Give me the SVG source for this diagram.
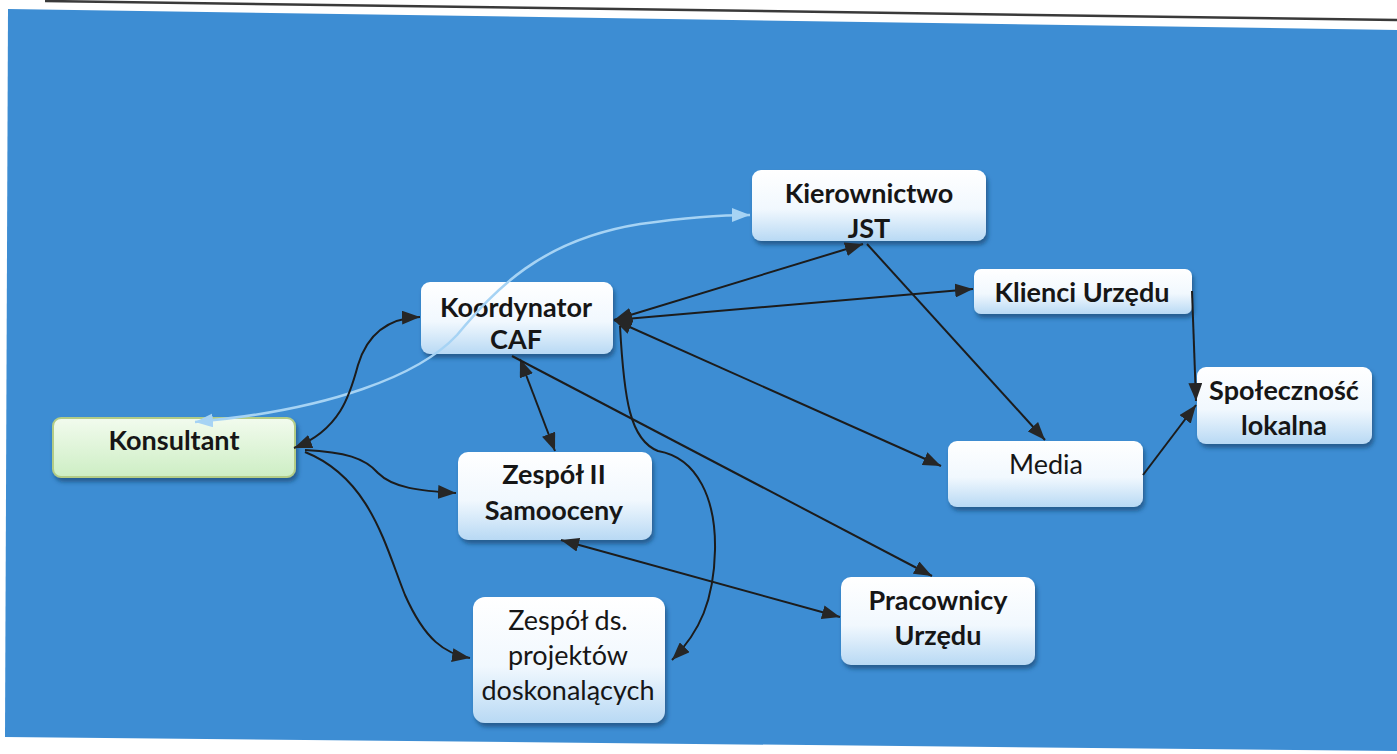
<svg xmlns="http://www.w3.org/2000/svg" width="1397" height="754" viewBox="0 0 1397 754">
<defs>
<style>
.t{font-family:Lato,"Liberation Sans",sans-serif;font-size:27px;fill:#161616;text-anchor:middle}
.b{font-weight:bold}
.n{font-weight:normal}
.box{fill:url(#gb);filter:url(#sh)}
.green{fill:url(#gg);stroke:#b3cc86;stroke-width:2;filter:url(#sh)}
.c{fill:none;stroke:#1c1c1c;stroke-width:2}
.lc{fill:none;stroke:#a6d3f4;stroke-width:2.5}
</style>
<linearGradient id="gb" x1="0" y1="0" x2="0" y2="1">
<stop offset="0" stop-color="#ffffff"/>
<stop offset="0.55" stop-color="#f1f8fe"/>
<stop offset="1" stop-color="#b8d9f4"/>
</linearGradient>
<linearGradient id="gg" x1="0" y1="0" x2="0" y2="1">
<stop offset="0" stop-color="#f2fbee"/>
<stop offset="1" stop-color="#cdeec4"/>
</linearGradient>
<filter id="sh" x="-10%" y="-20%" width="125%" height="150%">
<feDropShadow dx="2" dy="4" stdDeviation="2" flood-color="#143a63" flood-opacity="0.6"/>
</filter>
<marker id="ah" viewBox="0 0 18 14" refX="18" refY="7" markerWidth="18" markerHeight="14" markerUnits="userSpaceOnUse" orient="auto-start-reverse">
<path d="M0,0 L18,7 L0,14 z" fill="#262626"/>
</marker>
<marker id="al" viewBox="0 0 18 14" refX="18" refY="7" markerWidth="18" markerHeight="14" markerUnits="userSpaceOnUse" orient="auto-start-reverse">
<path d="M0,0 L18,7 L0,14 z" fill="#a6d3f4"/>
</marker>
</defs>

<g id="background">
<rect x="0" y="0" width="1397" height="754" fill="#ffffff"/>
<polygon points="8,9 1397,30 1397,751 5,737" fill="#3d8dd3"/>
<line x1="45" y1="1" x2="1397" y2="20" stroke="#3a3a3a" stroke-width="2.5"/>
</g>

<g id="node-kierownictwo">
<rect class="box" x="752" y="170" width="234" height="71" rx="9"/>
<text class="t b" x="869" y="203">Kierownictwo</text>
<text class="t b" x="869" y="238">JST</text>
</g>
<g id="node-koordynator">
<rect class="box" x="421" y="282" width="192" height="72" rx="9"/>
<text class="t b" x="516" y="317">Koordynator</text>
<text class="t b" x="516" y="349">CAF</text>
</g>
<g id="node-klienci">
<rect class="box" x="974" y="269" width="218" height="45" rx="7"/>
<text class="t b" x="1082" y="302">Klienci Urzędu</text>
</g>
<g id="node-spolecznosc">
<rect class="box" x="1197" y="367" width="175" height="77" rx="9"/>
<text class="t b" x="1284" y="400">Społeczność</text>
<text class="t b" x="1284" y="435">lokalna</text>
</g>
<g id="node-media">
<rect class="box" x="948" y="441" width="195" height="66" rx="9"/>
<text class="t n" x="1046" y="474">Media</text>
</g>
<g id="node-konsultant">
<rect class="green" x="53" y="418" width="242" height="59" rx="8"/>
<text class="t b" x="174" y="450">Konsultant</text>
</g>
<g id="node-zespol2">
<rect class="box" x="458" y="452" width="194" height="88" rx="10"/>
<text class="t b" x="554" y="484">Zespół II</text>
<text class="t b" x="554" y="520">Samooceny</text>
</g>
<g id="node-pracownicy">
<rect class="box" x="841" y="577" width="194" height="88" rx="10"/>
<text class="t b" x="938" y="610">Pracownicy</text>
<text class="t b" x="938" y="645">Urzędu</text>
</g>
<g id="node-zespolds">
<rect class="box" x="473" y="597" width="192" height="126" rx="12"/>
<text class="t n" x="568" y="630">Zespół ds.</text>
<text class="t n" x="568" y="665">projektów</text>
<text class="t n" x="568" y="700">doskonalących</text>
</g>

<g id="connectors">
<path class="lc" d="M195,422 C330,410 420,375 457,335 C495,290 540,240 640,224 C690,217 720,215 750,215" marker-start="url(#al)" marker-end="url(#al)"/>
<path class="c" d="M294,448 C340,430 350,395 358,365 C368,332 390,318 420,317" marker-start="url(#ah)" marker-end="url(#ah)"/>
<path class="c" d="M305,450 C345,452 365,458 378,473 C393,488 420,491 456,493" marker-end="url(#ah)"/>
<path class="c" d="M305,452 C370,478 385,545 405,595 C425,640 445,654 470,658" marker-end="url(#ah)"/>
<line class="c" x1="614" y1="320" x2="863" y2="244" marker-start="url(#ah)" marker-end="url(#ah)"/>
<line class="c" x1="614" y1="320" x2="973" y2="289" marker-start="url(#ah)" marker-end="url(#ah)"/>
<line class="c" x1="614" y1="320" x2="941" y2="466" marker-start="url(#ah)" marker-end="url(#ah)"/>
<line class="c" x1="520" y1="359" x2="555" y2="451" marker-start="url(#ah)" marker-end="url(#ah)"/>
<line class="c" x1="512" y1="356" x2="932" y2="576" marker-end="url(#ah)"/>
<line class="c" x1="561" y1="540" x2="840" y2="617" marker-start="url(#ah)" marker-end="url(#ah)"/>
<path class="c" d="M620,326 C624,400 630,440 658,451 C698,458 716,500 715,550 C714,600 700,632 672,660" marker-end="url(#ah)"/>
<line class="c" x1="867" y1="244" x2="1045" y2="440" marker-end="url(#ah)"/>
<line class="c" x1="1192" y1="291" x2="1196" y2="401" marker-end="url(#ah)"/>
<line class="c" x1="1143" y1="475" x2="1196" y2="405" marker-end="url(#ah)"/>
</g>
</svg>
